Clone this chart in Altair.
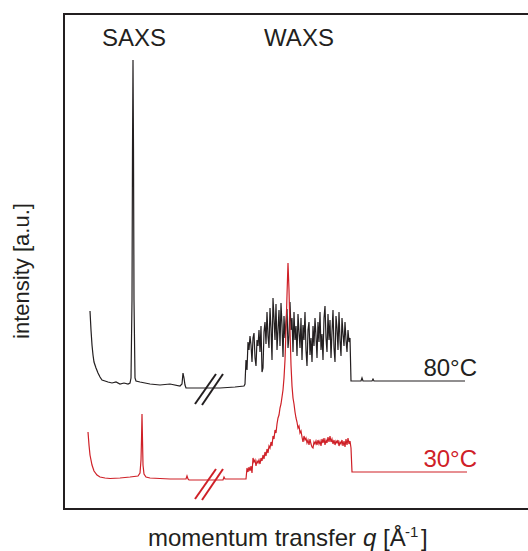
import altair as alt
import pandas as pd

# ---- 80 °C trace (black) -------------------------------------------------
# SAXS part and flat stretch up to the WAXS onset: channel, intensity (a.u.)
black_saxs_x = [26, 27, 28, 29, 30, 32, 34, 36, 38, 41, 44, 48, 52, 56, 60, 64, 66, 67,
                68, 68.5, 69, 69.5, 70, 71, 72, 76, 81, 86, 96, 106, 116, 118, 119, 120,
                121, 122, 136, 156, 171, 180]
black_saxs_i = [198, 179, 164, 154, 147, 141, 136, 132, 129, 128, 127, 126, 127, 125, 126, 125, 126, 131,
                209, 359, 449, 359, 209, 131, 128, 127, 126, 125, 124, 125, 123, 125, 136, 131,
                124, 121, 121, 121, 122, 123]
# WAXS part, one sample per channel starting at channel 181
black_waxs_start = 181
black_waxs_i = [125, 149, 139, 167, 159, 173, 164, 147, 171, 176,
                151, 143, 169, 163, 179, 157, 183, 137, 141, 177,
                187, 165, 197, 173, 161, 201, 181, 149, 211, 191,
                169, 205, 159, 179, 199, 163, 206, 184, 152, 193,
                171, 187, 200, 161, 173, 207, 179, 191, 157, 197,
                169, 183, 153, 195, 177, 161, 191, 149, 184, 169,
                197, 159, 143, 179, 187, 154, 171, 147, 183, 163,
                191, 173, 151, 187, 167, 197, 159, 175, 149, 191,
                203, 171, 157, 195, 169, 189, 151, 177, 199, 161,
                147, 193, 181, 159, 197, 169, 153, 191, 175, 163,
                187, 169, 157, 179, 167, 171, 128]
black_tail_x = [288, 297, 298, 299, 308, 309, 310, 401]
black_tail_i = [128, 128, 131, 128, 128, 130, 128, 128]

# ---- 30 °C trace (red) ---------------------------------------------------
red_saxs_x = [24, 25, 26, 28, 30, 33, 36, 41, 46, 56, 66, 74, 76, 77, 77.5, 78, 78.5,
              79, 80, 82, 86, 96, 106, 122, 123, 124, 125, 159, 160, 161, 181, 182]
red_saxs_i = [77, 64, 54, 44, 38, 34, 32, 31, 30.5, 31, 32, 33, 36, 49, 69, 95, 69,
              44, 35, 32, 31, 30.5, 30, 30, 33, 30, 29, 29, 32, 30, 30, 30]
red_waxs_start = 183
red_waxs_i = [41, 37, 42, 38, 43, 36, 51, 47, 49, 43,
              48, 46, 49, 45, 51, 48, 54, 50, 57, 53,
              60, 56, 63, 61, 67, 63, 73, 70, 79, 76,
              85, 91, 94, 101, 105, 112, 119, 131, 149, 179,
              214, 246, 219, 179, 144, 123, 111, 105, 97, 91,
              87, 81, 83, 76, 78, 72, 67, 73, 69, 71,
              66, 69, 64, 70, 65, 62, 61, 67, 65, 68,
              64, 69, 65, 68, 63, 70, 66, 71, 64, 69,
              66, 72, 67, 73, 67, 70, 65, 69, 64, 68,
              66, 69, 63, 67, 65, 69, 63, 68, 62, 70,
              64, 71, 65, 68, 61, 37]
red_tail_x = [291, 403]
red_tail_i = [37, 37]

# ---- axis-break marks (start/end of each slash) ---------------------------
break_x = [131, 138, 131, 138]
break_x2 = [152, 159, 152, 159]
break_i = [105, 104, 10, 9]
break_i2 = [135, 135, 40, 40]
break_series = ["80°C", "80°C", "30°C", "30°C"]

# ---- in-plot labels --------------------------------------------------------
label_text = ["SAXS", "WAXS", "80°C", "30°C"]
label_x = [70, 235, 413, 413]
label_i = [463, 463, 133, 42]
label_align = ["center", "center", "right", "right"]
label_series = ["note", "note", "80°C", "30°C"]

BLACK = "#231f20"
RED = "#cf2027"
FONT = "Liberation Sans"
W, H = 464, 495


def trace(name, sx, si, start, wi, tx, ti):
    xs = list(sx) + [start + k for k in range(len(wi))] + list(tx)
    ys = list(si) + list(wi) + list(ti)
    return pd.DataFrame({"channel": xs, "intensity": ys, "series": name,
                         "idx": range(len(xs))})


lines_df = pd.concat([
    trace("80°C", black_saxs_x, black_saxs_i, black_waxs_start, black_waxs_i,
          black_tail_x, black_tail_i),
    trace("30°C", red_saxs_x, red_saxs_i, red_waxs_start, red_waxs_i,
          red_tail_x, red_tail_i),
], ignore_index=True)

breaks_df = pd.DataFrame({"x": break_x, "x2": break_x2, "i": break_i,
                          "i2": break_i2, "series": break_series})
labels_df = pd.DataFrame({"text": label_text, "x": label_x, "i": label_i,
                          "align": label_align, "series": label_series})

xs = alt.Scale(domain=[0, W], nice=False, zero=False)
ys = alt.Scale(domain=[0, H], nice=False, zero=False)
col = alt.Scale(domain=["80°C", "30°C", "note"], range=[BLACK, RED, BLACK])

lines = alt.Chart(lines_df).mark_line(strokeWidth=1.2, strokeJoin="miter").encode(
    x=alt.X("channel:Q", scale=xs, axis=None),
    y=alt.Y("intensity:Q", scale=ys, axis=None),
    color=alt.Color("series:N", scale=col, legend=None),
    detail="series:N",
    order="idx:Q",
)

breaks = alt.Chart(breaks_df).mark_rule(strokeWidth=2).encode(
    x=alt.X("x:Q", scale=xs, axis=None), x2="x2:Q",
    y=alt.Y("i:Q", scale=ys, axis=None), y2="i2:Q",
    color=alt.Color("series:N", scale=col, legend=None),
)

labels_center = alt.Chart(labels_df[labels_df["align"] == "center"]).mark_text(
    font=FONT, fontSize=24, align="center", baseline="alphabetic"
).encode(
    x=alt.X("x:Q", scale=xs, axis=None), y=alt.Y("i:Q", scale=ys, axis=None),
    text="text:N", color=alt.Color("series:N", scale=col, legend=None),
)
labels_right = alt.Chart(labels_df[labels_df["align"] == "right"]).mark_text(
    font=FONT, fontSize=24, align="right", baseline="alphabetic"
).encode(
    x=alt.X("x:Q", scale=xs, axis=None), y=alt.Y("i:Q", scale=ys, axis=None),
    text="text:N", color=alt.Color("series:N", scale=col, legend=None),
)

# frame: left, top and bottom edges
frame_left = alt.Chart().mark_rule(color=BLACK, strokeWidth=2).encode(
    x=alt.value(0), y=alt.value(-1), y2=alt.value(H + 1))
frame_top = alt.Chart().mark_rule(color=BLACK, strokeWidth=2).encode(
    x=alt.value(-1), x2=alt.value(W), y=alt.value(0))
frame_bottom = alt.Chart().mark_rule(color=BLACK, strokeWidth=2).encode(
    x=alt.value(-1), x2=alt.value(W), y=alt.value(H))

# axis titles
ytitle = alt.Chart().mark_text(
    text="intensity [a.u.]", font=FONT, fontSize=22, angle=270,
    align="center", baseline="alphabetic", color=BLACK
).encode(x=alt.value(-35), y=alt.value(257))

xt_base = 532
xtitle_parts = [
    ("momentum transfer ", 84, xt_base, 24, "normal"),
    ("q", 299, xt_base, 24, "italic"),
    ("[Å", 319, xt_base, 24, "normal"),
    ("-1", 341, xt_base - 9, 15, "normal"),
    ("]", 357, xt_base, 24, "normal"),
]
xtitle = [
    alt.Chart().mark_text(text=t, font=FONT, fontSize=fs, fontStyle=st,
                          align="left", baseline="alphabetic", color=BLACK)
    .encode(x=alt.value(px), y=alt.value(py))
    for t, px, py, fs, st in xtitle_parts
]

chart = alt.layer(
    lines, breaks, labels_center, labels_right,
    frame_left, frame_top, frame_bottom, ytitle, *xtitle
).properties(
    width=W, height=H,
    padding={"left": 64, "top": 14, "right": 0, "bottom": 42},
    autosize=alt.AutoSizeParams(type="none"),
).configure_view(stroke=None)

chart.save("out.html", embed_options={"renderer": "svg", "actions": False})
